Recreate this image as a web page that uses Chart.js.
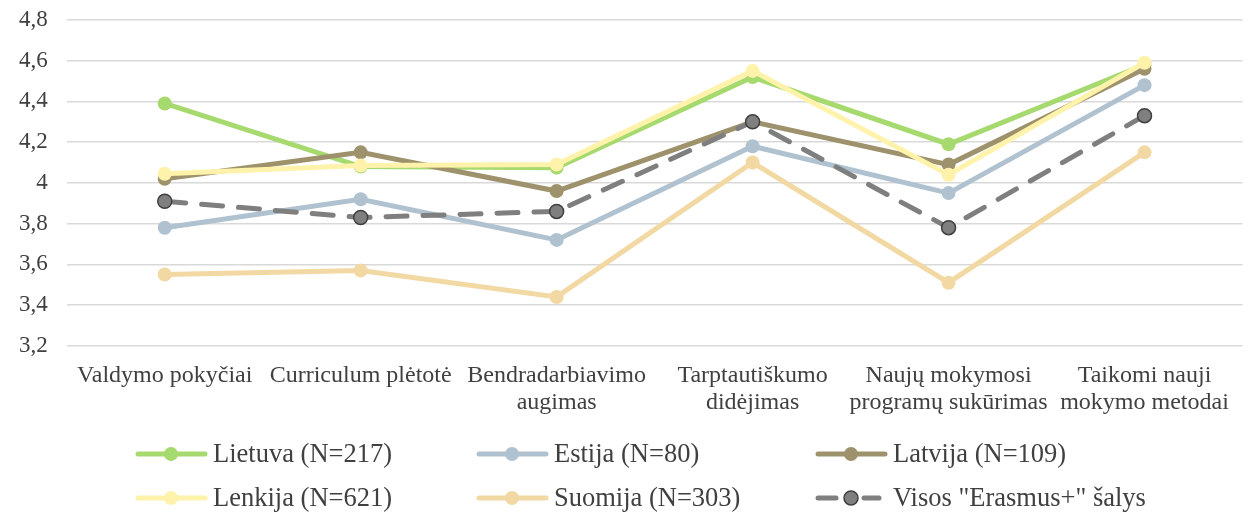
<!DOCTYPE html>
<html>
<head>
<meta charset="utf-8">
<script src="https://cdn.jsdelivr.net/npm/chart.js@4"></script>
<style>
  html, body { margin: 0; padding: 0; background: #fff; }
  #wrap { width: 1251px; height: 512px; }
</style>
</head>
<body>
<div id="wrap"><canvas id="chart"></canvas></div>
<script>
// categories and values
var categories = [
  ['Valdymo pokyčiai'],
  ['Curriculum plėtotė'],
  ['Bendradarbiavimo', 'augimas'],
  ['Tarptautiškumo', 'didėjimas'],
  ['Naujų mokymosi', 'programų sukūrimas'],
  ['Taikomi nauji', 'mokymo metodai']
];
var seriesNames = ['Lietuva (N=217)', 'Estija (N=80)', 'Latvija (N=109)',
                   'Lenkija (N=621)', 'Suomija (N=303)', 'Visos "Erasmus+" šalys'];
var lietuva = [4.39, 4.08, 4.075, 4.52, 4.19, 4.58];
var estija  = [3.78, 3.92, 3.72, 4.18, 3.95, 4.48];
var latvija = [4.02, 4.15, 3.96, 4.30, 4.09, 4.56];
var lenkija = [4.045, 4.085, 4.09, 4.55, 4.04, 4.59];
var suomija = [3.55, 3.57, 3.44, 4.10, 3.51, 4.15];
var visos   = [3.91, 3.83, 3.86, 4.30, 3.78, 4.33];
var yTicks  = [3.2, 3.4, 3.6, 3.8, 4, 4.2, 4.4, 4.6, 4.8];

var colors = ['#a6d96e', '#b0c2cf', '#9e926c', '#fff2aa', '#f2d8a2', '#7f7f7f'];
var values = [lietuva, estija, latvija, lenkija, suomija, visos];

var FONT = '"Liberation Serif", "Times New Roman", serif';
var TEXT = '#404040';

var datasets = values.map(function (v, i) {
  var last = i === 5;
  return {
    label: seriesNames[i],
    data: v,
    borderColor: colors[i],
    backgroundColor: colors[i],
    borderWidth: 5,
    borderDash: last ? [21, 16] : [],
    borderCapStyle: 'round',
    pointRadius: 7,
    pointBorderWidth: last ? 1.5 : 0,
    pointBorderColor: last ? '#404040' : colors[i],
    pointBackgroundColor: colors[i],
    tension: 0,
    order: 6 - i
  };
});

// legend in three columns, as in the original
var legendPlugin = {
  id: 'colLegend',
  afterDraw: function (chart) {
    var ctx = chart.ctx;
    var cols = [136, 477, 816];
    var rows = [454, 498];
    ctx.save();
    chart.data.datasets.forEach(function (ds, i) {
      var x = cols[i % 3], y = rows[Math.floor(i / 3)];
      ctx.strokeStyle = ds.borderColor;
      ctx.lineWidth = 5;
      ctx.lineCap = 'round';
      if (i === 5) {
        ctx.beginPath(); ctx.moveTo(x + 2, y); ctx.lineTo(x + 20, y); ctx.stroke();
        ctx.beginPath(); ctx.moveTo(x + 48, y); ctx.lineTo(x + 63, y); ctx.stroke();
      } else {
        ctx.beginPath(); ctx.moveTo(x + 2, y); ctx.lineTo(x + 69, y); ctx.stroke();
      }
      ctx.beginPath();
      ctx.arc(x + 35, y, 7, 0, Math.PI * 2);
      ctx.fillStyle = ds.pointBackgroundColor;
      ctx.fill();
      if (i === 5) { ctx.lineWidth = 1.5; ctx.strokeStyle = '#404040'; ctx.stroke(); }
      ctx.fillStyle = TEXT;
      ctx.font = '26.5px ' + FONT;
      ctx.textBaseline = 'middle';
      ctx.textAlign = 'left';
      ctx.fillText(ds.label, x + 77, y + 1);
    });
    ctx.restore();
  }
};

new Chart(document.getElementById('chart'), {
  type: 'line',
  data: { labels: categories, datasets: datasets },
  options: {
    responsive: true,
    maintainAspectRatio: false,
    animation: false,
    layout: { padding: { top: 20, right: -8, bottom: 79, left: 0 } },
    plugins: { legend: { display: false }, tooltip: { enabled: false } },
    scales: {
      x: {
        offset: true,
        grid: { display: false, drawTicks: false, tickLength: 0 },
        border: { display: false },
        afterFit: function (axis) {
          axis.paddingLeft = 0;
          axis.paddingRight = 0;
        },
        ticks: { color: TEXT, font: { family: FONT, size: 24, lineHeight: 1.15 }, padding: 16, maxRotation: 0, autoSkip: false }
      },
      y: {
        min: yTicks[0],
        max: yTicks[yTicks.length - 1],
        afterBuildTicks: function (axis) {
          axis.ticks = yTicks.map(function (v) { return { value: v }; });
        },
        afterFit: function (axis) {
          // keep the top gridline where the original has it
          axis.paddingTop = 0;
          axis.paddingBottom = 0;
        },
        grid: { color: '#d9d9d9', lineWidth: 1.5, drawTicks: false },
        border: { display: false },
        ticks: {
          color: TEXT,
          font: { family: FONT, size: 23 },
          padding: 19,
          callback: function (v) { return v === 4 ? '4' : v.toFixed(1).replace('.', ','); }
        }
      }
    }
  },
  plugins: [legendPlugin]
});
</script>
</body>
</html>
